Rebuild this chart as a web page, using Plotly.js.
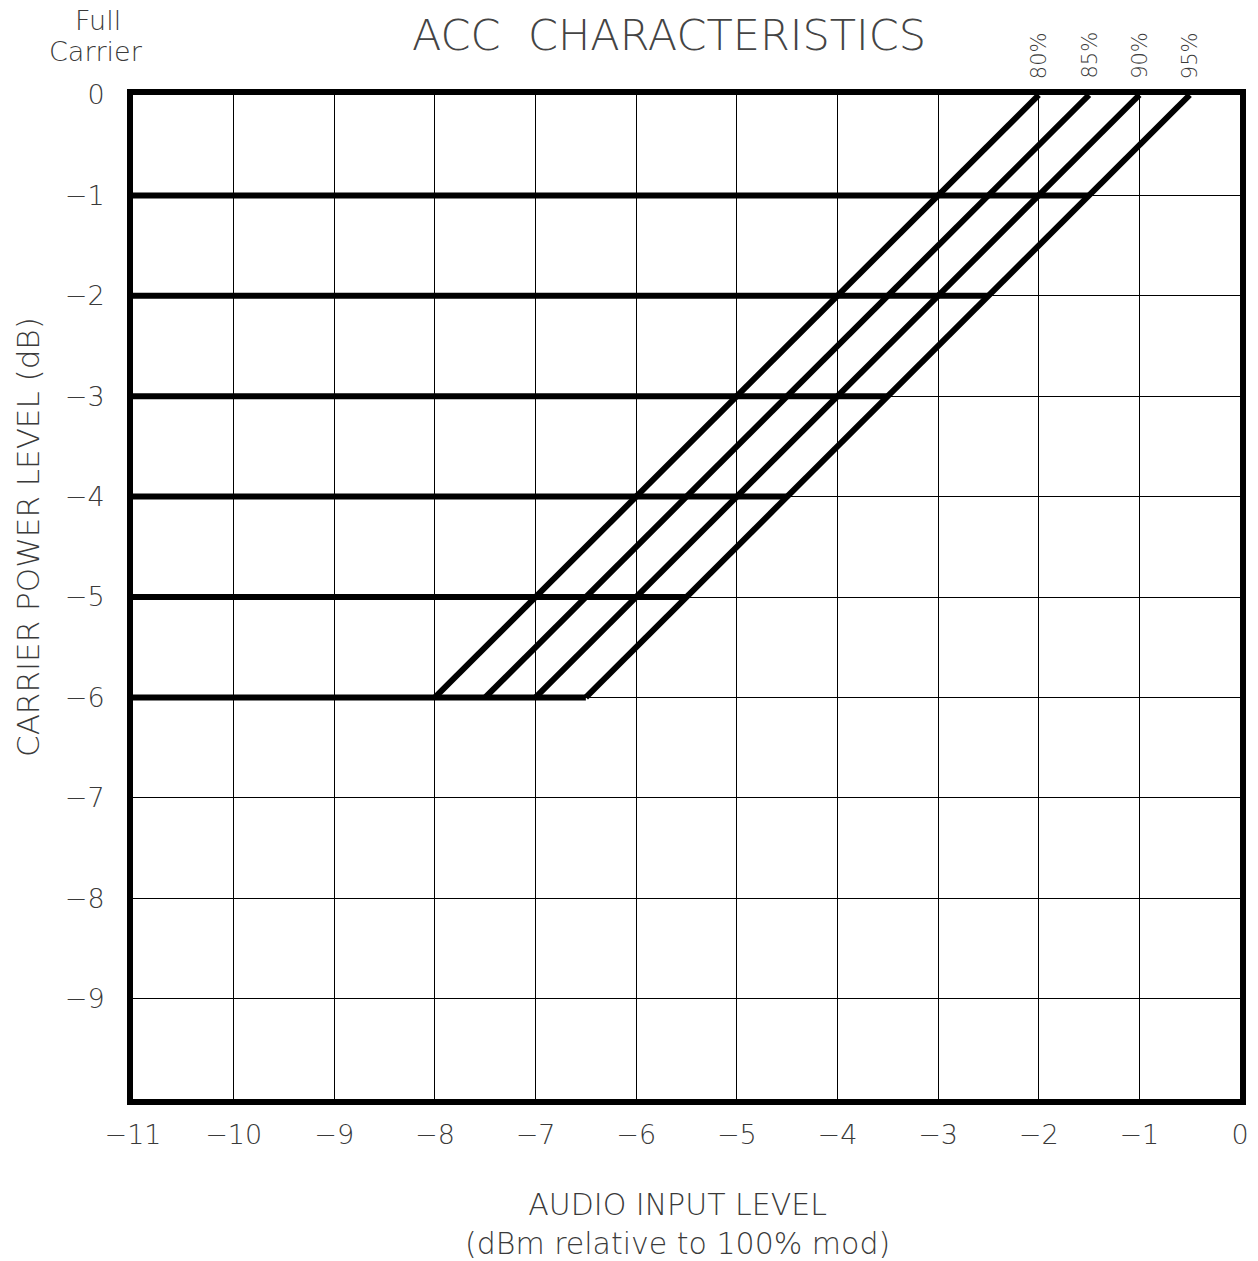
<!DOCTYPE html>
<html>
<head>
<meta charset="utf-8">
<script src="https://cdn.plot.ly/plotly-3.0.1.min.js"></script>
<style>html,body{margin:0;padding:0;background:#fff;}#chart{width:1258px;height:1261px;}</style>
</head>
<body>
<div id="chart"></div>
<script>
// Modulation percentage curves: carrier level vs audio input level
const modLabels = ["80%", "85%", "90%", "95%"];
const carrierLevels = [-6, 0];                 // y ends of each diagonal
const audioAtMinus6 = [-8, -7.5, -7, -6.5];    // x at carrier -6 dB
const audioAtZero = [-2, -1.5, -1, -0.5];      // x at carrier 0 dB

// Horizontal carrier-level lines, from left edge to the 95% curve
const hLevels = [-1, -2, -3, -4, -5, -6];
const hStart = -11;
const hEnd = [-1.5, -2.5, -3.5, -4.5, -5.5, -6.5];

const xTicks = [-11, -10, -9, -8, -7, -6, -5, -4, -3, -2, -1, 0];
const yTicks = [0, -1, -2, -3, -4, -5, -6, -7, -8, -9];

const FONT = "DejaVu Sans, Liberation Sans, sans-serif";
const TXT = "#3a3a3a";
const W = 200;

const traces = [];
modLabels.forEach((lab, i) => {
  traces.push({
    type: "scatter", mode: "lines", name: lab,
    x: [audioAtMinus6[i], audioAtZero[i]], y: carrierLevels,
    line: {color: "#000", width: 6}, hoverinfo: "skip", showlegend: false
  });
});
hLevels.forEach((lv, i) => {
  traces.push({
    type: "scatter", mode: "lines",
    x: [hStart, hEnd[i]], y: [lv, lv],
    line: {color: "#000", width: 6}, hoverinfo: "skip", showlegend: false
  });
});

const px = v => (v - 133) / 1107;
const py = v => (1099 - v) / 1004;

const annotations = modLabels.map((lab, i) => ({
  x: audioAtZero[i], y: 0, xref: "x", yref: "y",
  text: lab, textangle: -90, showarrow: false,
  xanchor: "center", yanchor: "bottom", yshift: 14,
  font: {family: FONT, size: 21, color: TXT, weight: W}
}));
annotations.push({
  xref: "paper", yref: "paper", x: px(98), y: py(20),
  text: "Full", showarrow: false, xanchor: "center", yanchor: "middle",
  font: {family: FONT, size: 27, color: TXT, weight: W}
});
annotations.push({
  xref: "paper", yref: "paper", x: px(96), y: py(51),
  text: "Carrier", showarrow: false, xanchor: "center", yanchor: "middle",
  font: {family: FONT, size: 27, color: TXT, weight: W}
});
annotations.push({
  xref: "paper", yref: "paper", x: px(28), y: py(537),
  text: "CARRIER POWER LEVEL (dB)", textangle: -90, showarrow: false,
  xanchor: "center", yanchor: "middle",
  font: {family: FONT, size: 31, color: TXT, weight: W}
});
annotations.push({
  xref: "paper", yref: "paper", x: px(677), y: py(1224),
  text: "AUDIO INPUT LEVEL<br>(dBm relative to 100% mod)", showarrow: false,
  xanchor: "center", yanchor: "middle",
  font: {family: FONT, size: 30, color: TXT, weight: W}
});

const layout = {
  width: 1258, height: 1261,
  margin: {l: 133, r: 18, t: 95, b: 162},
  paper_bgcolor: "#fff", plot_bgcolor: "#fff",
  showlegend: false,
  title: {
    text: "ACC&nbsp;&nbsp;CHARACTERISTICS",
    x: 669 / 1258, xanchor: "center", y: 1 - 35 / 1261, yanchor: "middle",
    font: {family: FONT, size: 43, color: "#444", weight: W}
  },
  xaxis: {
    range: [-11, 0], tickvals: xTicks, ticktext: xTicks.map(v => v < 0 ? "\u2212" + Math.abs(v) : String(v)),
    showgrid: true, gridcolor: "#000", gridwidth: 1, zeroline: false,
    showline: true, linecolor: "#000", linewidth: 6, mirror: true,
    ticks: "", ticklabelstandoff: 7,
    tickfont: {family: FONT, size: 27, color: TXT, weight: W}
  },
  yaxis: {
    range: [-10, 0], tickvals: yTicks, ticktext: yTicks.map(v => v < 0 ? "\u2212" + Math.abs(v) : String(v)),
    showgrid: true, gridcolor: "#000", gridwidth: 1, zeroline: false,
    showline: true, linecolor: "#000", linewidth: 6, mirror: true,
    ticks: "", ticklabelstandoff: 17,
    tickfont: {family: FONT, size: 27, color: TXT, weight: W}
  },
  annotations: annotations
};

Plotly.newPlot("chart", traces, layout, {displayModeBar: false, staticPlot: true});
</script>
</body>
</html>
